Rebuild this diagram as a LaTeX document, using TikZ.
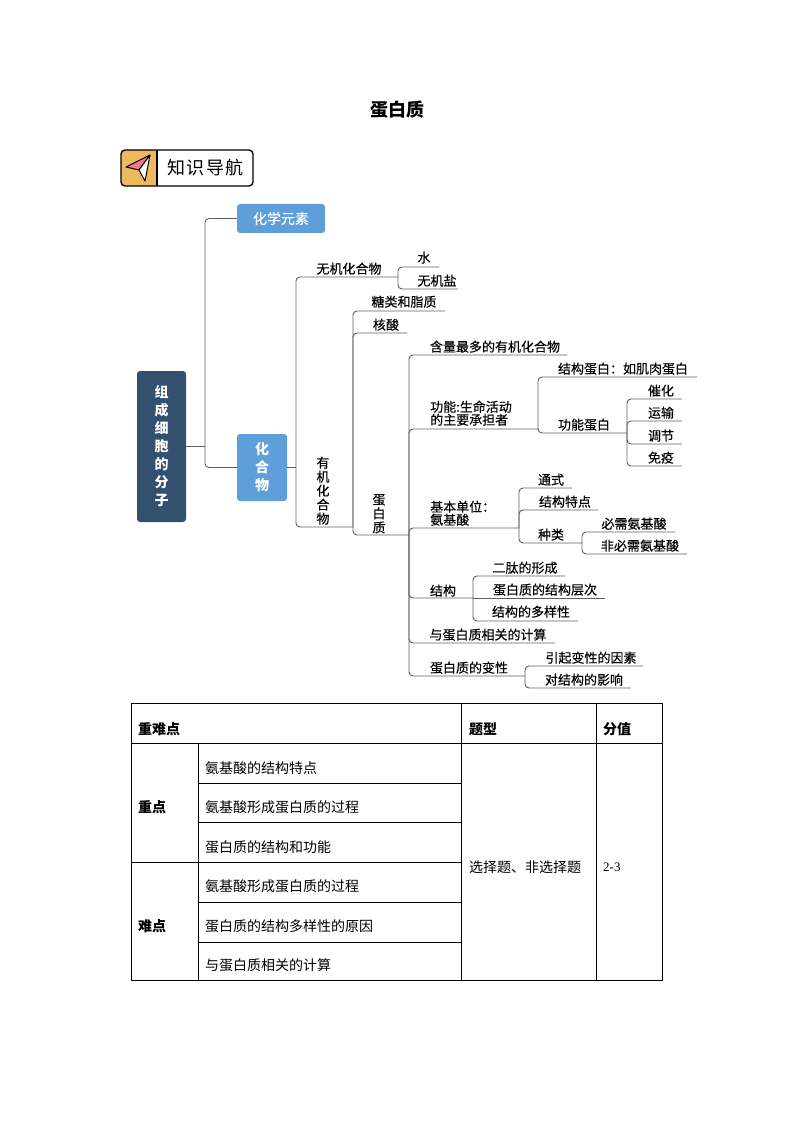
\documentclass[tikz,border=0pt]{standalone}
\usepackage{fontspec}
\setmainfont{Noto Sans CJK SC}
\newfontfamily\numfont{Liberation Serif}
\newfontfamily\leaffont[FakeBold=0.25]{Noto Sans CJK SC}
\definecolor{rootblue}{HTML}{34506F}
\definecolor{boxblue}{HTML}{5F9FD9}
\definecolor{linegray}{HTML}{5A5F64}
\definecolor{planeyellow}{HTML}{EDB95E}
\definecolor{planepink}{HTML}{F0788C}
\tikzset{
  leaf/.style={inner sep=0pt,yshift=-0.7pt,font=\fontsize{13}{13}\leaffont},
  leafstack/.style={leaf,align=center,font=\fontsize{13}{14}\leaffont},
  leafleft/.style={leaf,align=left,anchor=west},
  link/.style={draw=linegray,line width=0.9pt,rounded corners=4pt},
  topicbox/.style={fill=boxblue,rounded corners=3pt,text=white,font=\fontsize{14}{18}\selectfont\bfseries,align=center,inner sep=0pt},
  cell/.style={inner sep=0pt,anchor=west,font=\fontsize{14}{14}\selectfont},
  headcell/.style={cell,font=\fontsize{14}{14}\selectfont\bfseries},
}
\begin{document}
\begin{tikzpicture}[x=1pt,y=-1pt]
\useasboundingbox (0,0) rectangle (794,1123);

% title
\node[inner sep=0pt,font=\fontsize{18}{18}\selectfont\bfseries] (title) at (397,110) {蛋白质};

% badge
\fill[planeyellow,rounded corners=4pt] (121,150) -- (157,150) -- (157,186) -- (121,186) -- cycle;
\draw[line width=1.4pt,rounded corners=4pt] (121,150) rectangle (253,186);
\draw[line width=1.2pt] (157,150) -- (157,186);
\draw[fill=planepink,line width=1pt,line join=round] (150,155) -- (126,167) -- (139,170) -- cycle;
\draw[fill=white,line width=1pt,line join=round] (150,155) -- (139,170) -- (145,181) -- cycle;
\node[inner sep=0pt,font=\fontsize{18}{18}\selectfont] (badge) at (205.5,168) {知\hspace{1.5pt}识\hspace{1.5pt}导\hspace{1.5pt}航};

% boxes
\node[fill=rootblue,rounded corners=3pt,text=white,minimum width=49pt,minimum height=151pt,inner sep=0pt,align=center,font=\fontsize{14}{18}\selectfont\bfseries] (root) at (161.5,446.5) {组\\成\\细\\胞\\的\\分\\子};
\node[topicbox,minimum width=88pt,minimum height=29pt,font=\fontsize{14}{18}\leaffont] (element) at (281,218.5) {化学元素};
\node[topicbox,minimum width=50pt,minimum height=67pt] (compound) at (262,467.5) {化\\合\\物};

% labels
\node[leaf] (inorganic) at (349,268) {无机化合物};
\node[leaf] (water) at (424,257) {水};
\node[leaf] (salt) at (437,280) {无机盐};
\node[leafstack] (organic) at (323,490) {有\\机\\化\\合\\物};
\node[leaf] (sugar) at (404,301) {糖类和脂质};
\node[leaf] (nucleic) at (386,324) {核酸};
\node[leafstack] (protein) at (379,513) {蛋\\白\\质};
\node[leaf] (most) at (495,346) {含量最多的有机化合物};
\node[leafleft] (func) at (430,412.5) {功能:生命活动\\的主要承担者};
\node[leaf] (struct) at (623,368) {结构蛋白：如肌肉蛋白};
\node[leaf] (funcpro) at (584,424) {功能蛋白};
\node[leaf] (cata) at (661,390) {催化};
\node[leaf] (trans) at (661,412) {运输};
\node[leaf] (regu) at (661,435) {调节};
\node[leaf] (immu) at (661,457) {免疫};
\node[leafleft] (unit) at (430,512.5) {基本单位：\\氨基酸};
\node[leaf] (formula) at (551,479) {通式};
\node[leaf] (feature) at (565,501) {结构特点};
\node[leaf] (kind) at (551,534) {种类};
\node[leaf] (essen) at (634,523) {必需氨基酸};
\node[leaf] (nonessen) at (640,545) {非必需氨基酸};
\node[leaf] (structure) at (443,590) {结构};
\node[leaf] (dipep) at (525,567) {二肽的形成};
\node[leaf] (level) at (545,589) {蛋白质的结构层次};
\node[leaf] (diver) at (531,611) {结构的多样性};
\node[leaf] (calc) at (488,634) {与蛋白质相关的计算};
\node[leaf] (denat) at (469,667) {蛋白质的变性};
\node[leaf] (cause) at (591,657) {引起变性的因素};
\node[leaf] (effect) at (584,679) {对结构的影响};

% junctions
\coordinate (j root) at (205,446.5);
\coordinate (j comp) at (296,467.5);
\coordinate (j inorg) at (398,277);
\coordinate (j org) at (353,527);
\coordinate (j prot) at (409,535);
\coordinate (j func) at (538,429);
\coordinate (j fpro) at (627,433);
\coordinate (j unit) at (519,528);
\coordinate (j kind) at (582,543);
\coordinate (j stru) at (473,598);
\coordinate (j dena) at (525,676);

% line ends
\coordinate (e water) at (439,267);
\coordinate (e salt) at (458,289);
\coordinate (e sugar) at (445,311);
\coordinate (e nucleic) at (407,333);
\coordinate (e most) at (567,355);
\coordinate (e struct) at (697,377);
\coordinate (e cata) at (682,399);
\coordinate (e trans) at (682,421);
\coordinate (e regu) at (682,444);
\coordinate (e immu) at (682,466);
\coordinate (e formula) at (572,488);
\coordinate (e feature) at (598,510);
\coordinate (e essen) at (675,532);
\coordinate (e nonessen) at (687,554);
\coordinate (e dipep) at (565,576);
\coordinate (e level) at (605,598);
\coordinate (e diver) at (578,621);
\coordinate (e calc) at (555,643);
\coordinate (e cause) at (643,666);
\coordinate (e effect) at (631,688);

% root branches
\draw[link] (root.east |- j root) -- (j root);
\draw[link] (j root) |- (element.west);
\draw[link] (j root) |- (compound.west);

% compound branches
\draw[link] (compound.east) -- (j comp);
\draw[link] (j comp) |- (j inorg);
\draw[link] (j comp) |- (j org);
\draw[link] (j inorg) |- (e water);
\draw[link] (j inorg) |- (e salt);

% organic branches
\draw[link] (j org) |- (e sugar);
\draw[link] (j org) |- (e nucleic);
\draw[link] (j org) |- (j prot);

% protein branches
\draw[link] (j prot) |- (e most);
\draw[link] (j prot) |- (j func);
\draw[link] (j prot) |- (j unit);
\draw[link] (j prot) |- (j stru);
\draw[link] (j prot) |- (e calc);
\draw[link] (j prot) |- (j dena);

% function
\draw[link] (j func) |- (e struct);
\draw[link] (j func) |- (j fpro);
\foreach \e in {cata,trans,regu,immu}
  \draw[link] (j fpro) |- (e \e);

% unit
\draw[link] (j unit) |- (e formula);
\draw[link] (j unit) |- (e feature);
\draw[link] (j unit) |- (j kind);
\draw[link] (j kind) |- (e essen);
\draw[link] (j kind) |- (e nonessen);

% structure
\draw[link] (j stru) |- (e dipep);
\draw[link] (j stru) -- (e level);
\draw[link] (j stru) |- (e diver);

% denaturation
\draw[link] (j dena) |- (e cause);
\draw[link] (j dena) |- (e effect);

% table
\draw[line width=0.9pt] (131.5,703) rectangle (662,980);
\draw[line width=0.9pt] (131.5,743) -- (662,743);
\draw[line width=0.9pt] (131.5,862) -- (461.5,862);
\foreach \y in {783,822,902,942}
  \draw[line width=0.9pt] (198,\y) -- (461.5,\y);
\draw[line width=0.9pt] (198,743) -- (198,980);
\draw[line width=0.9pt] (461.5,703) -- (461.5,980);
\draw[line width=0.9pt] (596.5,703) -- (596.5,980);

\node[headcell] (head key) at (138,729) {重难点};
\node[headcell] (head type) at (469,729) {题型};
\node[headcell] (head score) at (603,729) {分值};
\node[headcell] (key) at (138,807) {重点};
\node[headcell] (hard) at (138,926) {难点};
\foreach \y/\n/\t in {768/a/氨基酸的结构特点,807/b/氨基酸形成蛋白质的过程,847/c/蛋白质的结构和功能,886/d/氨基酸形成蛋白质的过程,926/e/蛋白质的结构多样性的原因,965/f/与蛋白质相关的计算}
  \node[cell] (row \n) at (205,\y) {\t};
\node[cell] (type) at (469,867) {选择题、非选择题};
\node[cell,font=\fontsize{13}{14}\numfont] (score) at (603,867) {2-3};

\end{tikzpicture}
\end{document}
